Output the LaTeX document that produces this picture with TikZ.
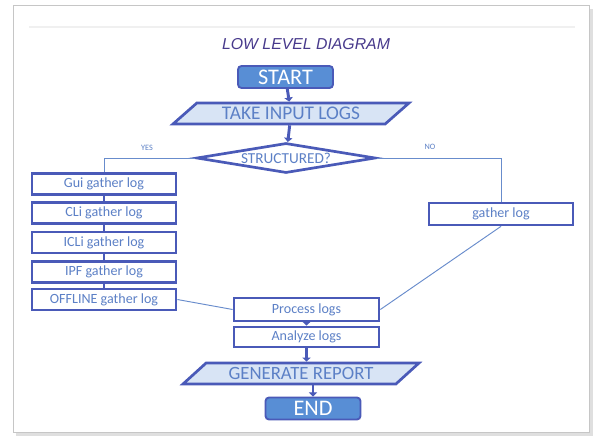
\documentclass[tikz,border=0pt]{standalone}
\usepackage{fontspec}
\setmainfont{Carlito}
\newfontfamily\titlefont{Liberation Sans}
\usetikzlibrary{shapes.geometric,arrows.meta}

\definecolor{boxline}{RGB}{74,90,184}
\definecolor{termfill}{RGB}{88,142,213}
\definecolor{iofill}{RGB}{216,228,245}
\definecolor{txtblue}{RGB}{92,128,198}
\definecolor{linkblue}{RGB}{104,140,204}
\definecolor{titlecol}{RGB}{72,58,140}

\begin{document}
\begin{tikzpicture}[x=0.03cm, y=-0.03cm,
  >={Triangle[width=7pt,length=3.5pt]},
  box/.style={draw=boxline, line width=2.3pt, fill=white, text=txtblue,
    minimum width=4.32cm, minimum height=0.63cm, inner sep=0pt,
    font=\fontsize{12}{13}\selectfont},
  term/.style={draw=boxline, line width=1.6pt, fill=termfill, text=white,
    rounded corners=3pt, minimum width=2.85cm, minimum height=0.66cm,
    inner sep=0pt, font=\fontsize{19}{20}\selectfont},
  inout/.style={trapezium, trapezium left angle=28, trapezium right angle=152,
    trapezium stretches body, draw=boxline, line width=2.3pt, fill=iofill,
    text=txtblue, minimum width=7.08cm, minimum height=0.63cm, inner sep=0pt,
    font=\fontsize{16.5}{17}\selectfont},
  decide/.style={diamond, aspect=6, draw=boxline, line width=2.3pt, fill=white,
    text=txtblue, minimum width=5.37cm, minimum height=0.9cm, inner sep=0pt,
    font=\fontsize{13}{14}\selectfont},
  flow/.style={draw=boxline, line width=2.5pt, ->},
  link/.style={draw=linkblue, line width=0.8pt},
  tag/.style={text=txtblue, font=\fontsize{7}{8}\selectfont}]

\useasboundingbox (0,0) rectangle (593,436);

% Frame of the page
\fill[gray!25] (16,9) rectangle (593,436);
\draw[gray!45, line width=0.8pt, fill=white] (13,5) rectangle (589,432);
\draw[gray!12, line width=1pt] (29,27) -- (575,27);

% Title
\node[text=titlecol, font=\titlefont\itshape\fontsize{13.5}{14}\selectfont] (title) at (306,44) {LOW LEVEL DIAGRAM};

% Main column
\node[term] (start) at (285.5,77) {START};
\node[inout] (take) at (291,113.5) {TAKE INPUT LOGS};
\node[decide] (structured) at (286,158) {STRUCTURED?};

% Structured logs
\node[box] (gui) at (104,184) {Gui gather log};
\node[box] (cli) at (104,213) {CLi gather log};
\node[box] (icli) at (104,242.5) {ICLi gather log};
\node[box] (ipf) at (104,272) {IPF gather log};
\node[box] (offline) at (104,299.5) {OFFLINE gather log};

% Unstructured logs
\node[box, minimum height=0.66cm] (gather) at (501,214) {gather log};

% Lower column
\node[box, minimum width=4.35cm, minimum height=0.69cm] (process) at (306.5,309.5) {Process logs};
\node[box, minimum width=4.35cm, minimum height=0.6cm] (analyze) at (306.5,337) {Analyze logs};
\node[inout, font=\fontsize{16}{17}\selectfont] (report) at (301,373.5) {GENERATE REPORT};
\node[term] (end) at (313,408.5) {END};

% Flow arrows
\draw[flow] (start) -- (take);
\draw[flow] (take) -- (structured);
\draw[flow] (process) -- (analyze);
\draw[flow] (analyze.south) -- (analyze.south |- report.north);
\draw[flow, line width=1.8pt] (end.north |- report.south) -- (end.north);

% Branches
\draw[link] (structured.west) -| (gui.north);
\draw[link] (structured.east) -| (gather.north);
\node[tag] (yes) at (147,148) {YES};
\node[tag] (no) at (430,147) {NO};

% Chain of gather boxes
\foreach \a/\b in {gui/cli, cli/icli, icli/ipf, ipf/offline}
  \draw[boxline, line width=2.3pt] (\a) -- (\b);

% Into processing
\draw[link] (offline.east) -- (process.west);
\draw[link] (gather.south) -- (process.east);

\end{tikzpicture}
\end{document}
